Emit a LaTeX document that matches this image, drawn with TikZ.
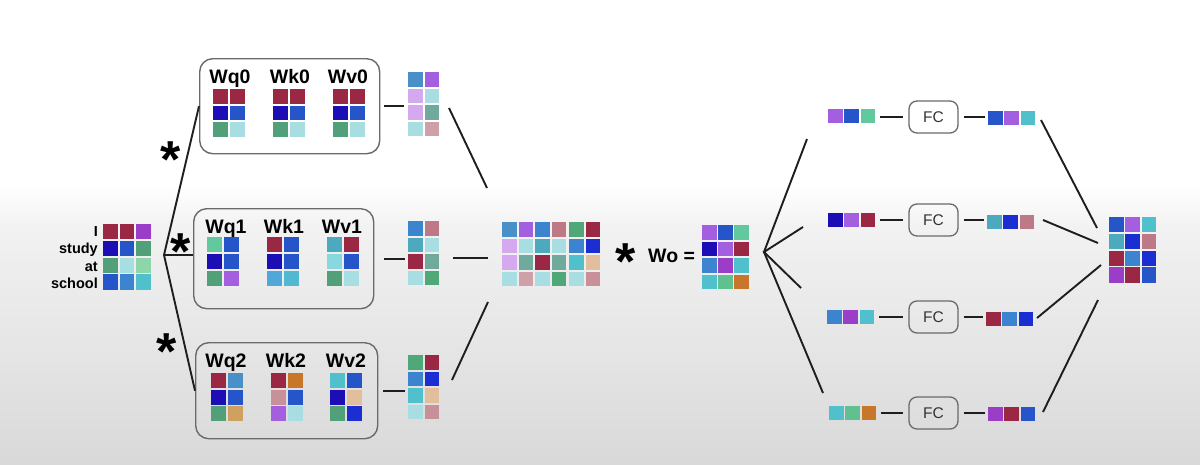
\documentclass[tikz,border=0pt]{standalone}
\usepackage{fontspec}
\setmainfont{Liberation Sans}
\definecolor{crim}{HTML}{9A2844}
\definecolor{indigo}{HTML}{1C0EB4}
\definecolor{blueA}{HTML}{2555C8}
\definecolor{blueB}{HTML}{1A2ED2}
\definecolor{greenA}{HTML}{52A07A}
\definecolor{greenB}{HTML}{50A878}
\definecolor{paleC}{HTML}{A8DEE2}
\definecolor{purp}{HTML}{A45EE0}
\definecolor{steel}{HTML}{3C84D0}
\definecolor{steelB}{HTML}{4A90C8}
\definecolor{cyan}{HTML}{50C0CC}
\definecolor{lcyan}{HTML}{88D8E0}
\definecolor{lgreen}{HTML}{8ED6AA}
\definecolor{orange}{HTML}{C8772A}
\definecolor{pinkA}{HTML}{BD7A86}
\definecolor{pinkL}{HTML}{D0A0A8}
\definecolor{pinkM}{HTML}{C89098}
\definecolor{tan}{HTML}{E2BF9C}
\definecolor{tanO}{HTML}{D0A060}
\definecolor{lav}{HTML}{D4A9F0}
\definecolor{teal}{HTML}{4CA9BE}
\definecolor{gteal}{HTML}{6FAA9D}
\definecolor{magp}{HTML}{9A3EC8}
\definecolor{mint}{HTML}{62C89E}
\definecolor{mintg}{HTML}{60C090}
\definecolor{skyb}{HTML}{4FA8D8}
\definecolor{skyc}{HTML}{50B8D0}
\definecolor{linecol}{HTML}{1E1E1E}
\definecolor{boxcol}{HTML}{6A6A6A}
% #1 name, #2 x, #3 y, #4 cell w, #5 cell h, #6 cols, #7 rows, #8 colour rows
\newcommand\cellmat[8]{%
  \foreach \rowlist [count=\ri] in {#8} {%
    \foreach \cc [count=\ci] in \rowlist {%
      \fill[fill=\cc] ({#2+(\ci-1)*#4},{#3+(\ri-1)*#5}) rectangle ++({#4-1.6},{#5-1.6});
    }%
  }%
  \node[matnode, anchor=north west, minimum width={(#6*#4-1.6)*1pt}, minimum height={(#7*#5-1.6)*1pt}] (#1) at (#2,#3) {};%
}
\tikzset{
  matnode/.style={inner sep=0pt, outer sep=0pt, draw=none},
  headbox/.style={draw=boxcol, line width=1.4pt, rounded corners=13pt, inner sep=0pt, anchor=north west},
  fcbox/.style={draw=boxcol, line width=1.3pt, rounded corners=8pt, minimum width=49pt, minimum height=32pt, inner sep=0pt, font=\fontsize{15.5}{16}\selectfont, text=black!80},
  wlabel/.style={font=\bfseries\fontsize{19.5}{20}\selectfont, anchor=base, inner sep=0pt},
  wordlabel/.style={font=\bfseries\fontsize{14.5}{15}\selectfont, anchor=base east, inner sep=0pt},
  asterisk/.style={font=\bfseries\fontsize{52}{52}\selectfont, anchor=north, inner sep=0pt},
  conn/.style={draw=linecol, line width=1.9pt},
}
\begin{document}
\begin{tikzpicture}[x=1pt,y=-1pt]
\useasboundingbox (0,0) rectangle (1200,464);
\fill[white] (0,0) rectangle (1200,186);
\shade[top color=white, bottom color=black!5] (0,185) rectangle (1200,226);
\shade[top color=black!5, bottom color=black!15] (0,225) rectangle (1200,464);

% input
\cellmat{inp}{103}{224}{16.5}{16.8}{3}{4}{{crim,crim,magp},{indigo,blueA,greenA},{greenA,paleC,lgreen},{blueA,steel,cyan}}
\node[wordlabel] (wI) at (98,236) {I};
\node[wordlabel] (wstudy) at (98,253) {study};
\node[wordlabel] (wat) at (98,271) {at};
\node[wordlabel] (wschool) at (98,288) {school};

% head boxes
\node[headbox, minimum width=180pt, minimum height=95pt] (box0) at (199,58) {};
\node[headbox, minimum width=180pt, minimum height=100pt] (box1) at (193,208) {};
\node[headbox, minimum width=182pt, minimum height=96pt] (box2) at (195,342) {};

\node[wlabel] (lq0) at (230,83) {Wq0};
\node[wlabel] (lk0) at (290,83) {Wk0};
\node[wlabel] (lv0) at (348,83) {Wv0};
\cellmat{q0}{213}{89}{17}{16.5}{2}{3}{{crim,crim},{indigo,blueA},{greenA,paleC}}
\cellmat{k0}{273}{89}{17}{16.5}{2}{3}{{crim,crim},{indigo,blueA},{greenA,paleC}}
\cellmat{v0}{333}{89}{17}{16.5}{2}{3}{{crim,crim},{indigo,blueA},{greenA,paleC}}

\node[wlabel] (lq1) at (226,233) {Wq1};
\node[wlabel] (lk1) at (284,233) {Wk1};
\node[wlabel] (lv1) at (342,233) {Wv1};
\cellmat{q1}{207}{237}{17}{16.8}{2}{3}{{mint,blueA},{indigo,blueA},{greenA,purp}}
\cellmat{k1}{267}{237}{17}{16.8}{2}{3}{{crim,blueA},{indigo,blueA},{skyb,skyc}}
\cellmat{v1}{327}{237}{17}{16.8}{2}{3}{{teal,crim},{lcyan,blueA},{greenA,paleC}}

\node[wlabel] (lq2) at (226,367) {Wq2};
\node[wlabel] (lk2) at (286,367) {Wk2};
\node[wlabel] (lv2) at (346,367) {Wv2};
\cellmat{q2}{211}{373}{17}{16.6}{2}{3}{{crim,steelB},{indigo,blueA},{greenA,tanO}}
\cellmat{k2}{271}{373}{17}{16.6}{2}{3}{{crim,orange},{pinkM,blueA},{purp,paleC}}
\cellmat{v2}{330}{373}{17}{16.6}{2}{3}{{cyan,blueA},{indigo,tan},{greenA,blueB}}

% asterisks
\node[asterisk] (s0) at (171,142) {*};
\node[asterisk] (s1) at (181,234) {*};
\node[asterisk] (s2) at (167,334) {*};

% left fan
\coordinate (apex) at (164,255);
\draw[conn] (box0.west) -- (apex) -- (box2.west);
\draw[conn] (apex) -- (apex -| box1.west);

% head outputs
\cellmat{h0}{408}{72}{16.5}{16.5}{2}{4}{{steelB,purp},{lav,paleC},{lav,gteal},{paleC,pinkL}}
\cellmat{h1}{408}{221}{16.5}{16.5}{2}{4}{{steel,pinkA},{teal,paleC},{crim,gteal},{paleC,greenB}}
\cellmat{h2}{408}{355}{16.5}{16.5}{2}{4}{{greenB,crim},{steel,blueB},{cyan,tan},{paleC,pinkM}}
\draw[conn, shorten <=4pt, shorten >=4pt] (box0.east) -- (box0.east -| h0.west);
\draw[conn, shorten <=10pt, shorten >=3pt] (box1.east) -- (box1.east -| h1.west);
\draw[conn, shorten <=5pt, shorten >=3pt] (box2.east) -- (box2.east -| h2.west);

% concat
\cellmat{cat}{502}{222}{16.5}{16.5}{4}{4}{{steelB,purp,steel,pinkA},{lav,paleC,teal,paleC},{lav,gteal,crim,gteal},{paleC,pinkL,paleC,greenB}}
\cellmat{catb}{569}{222}{16.5}{16.5}{2}{4}{{greenB,crim},{steel,blueB},{cyan,tan},{paleC,pinkM}}
\coordinate (m0a) at (449,108); \coordinate (m0b) at (487,188);
\coordinate (m1a) at (453,258); \coordinate (m1b) at (488,258);
\coordinate (m2a) at (452,380); \coordinate (m2b) at (488,302);
\draw[conn] (m0a) -- (m0b);
\draw[conn] (m1a) -- (m1b);
\draw[conn] (m2a) -- (m2b);

% * Wo =
\node[asterisk] (s3) at (626,244) {*};
\node[wlabel, anchor=base west] (wo) at (648,262) {Wo =};
\cellmat{wom}{702}{225}{16.2}{16.5}{3}{4}{{purp,blueA,mint},{indigo,purp,crim},{steel,magp,cyan},{cyan,mintg,orange}}

% right fan
\coordinate (rapex) at (764,252);
\coordinate (f1) at (807,139);
\coordinate (f2) at (803,227);
\coordinate (f3) at (801,288);
\coordinate (f4) at (823,393);
\draw[conn] (f1) -- (rapex) -- (f4);
\draw[conn] (f2) -- (rapex) -- (f3);

% rows
\cellmat{r1i}{828}{109}{16.3}{15.2}{3}{1}{{purp,blueA,mint}}
\cellmat{r2i}{828}{213}{16.3}{15.2}{3}{1}{{indigo,purp,crim}}
\cellmat{r3i}{827}{310}{16.3}{15.2}{3}{1}{{steel,magp,cyan}}
\cellmat{r4i}{829}{406}{16.3}{15.2}{3}{1}{{cyan,mintg,orange}}
\node[fcbox] (fc1) at (933.5,117) {FC};
\node[fcbox] (fc2) at (933.5,220) {FC};
\node[fcbox] (fc3) at (933.5,317) {FC};
\node[fcbox] (fc4) at (933.5,413) {FC};
\cellmat{r1o}{988}{111}{16.3}{15.2}{3}{1}{{blueA,purp,cyan}}
\cellmat{r2o}{987}{215}{16.3}{15.2}{3}{1}{{teal,blueB,pinkA}}
\cellmat{r3o}{986}{312}{16.3}{15.2}{3}{1}{{crim,steel,blueB}}
\cellmat{r4o}{988}{407}{16.3}{15.2}{3}{1}{{magp,crim,blueA}}
\foreach \k in {1,2,3,4} {
  \draw[conn, shorten <=5pt, shorten >=5pt] (fc\k.west -| r\k i.east) -- (fc\k.west);
  \draw[conn, shorten <=5pt, shorten >=3pt] (fc\k.east) -- (fc\k.east -| r\k o.west);
}

% final
\cellmat{fin}{1109}{217}{16.3}{16.8}{3}{4}{{blueA,purp,cyan},{teal,blueB,pinkA},{crim,steel,blueB},{magp,crim,blueA}}
\coordinate (g1a) at (1041,120); \coordinate (g1b) at (1097,228);
\coordinate (g2a) at (1043,220); \coordinate (g2b) at (1098,243);
\coordinate (g3a) at (1037,318); \coordinate (g3b) at (1101,265);
\coordinate (g4a) at (1043,412); \coordinate (g4b) at (1098,300);
\draw[conn] (g1a) -- (g1b);
\draw[conn] (g2a) -- (g2b);
\draw[conn] (g3a) -- (g3b);
\draw[conn] (g4a) -- (g4b);
\end{tikzpicture}
\end{document}
